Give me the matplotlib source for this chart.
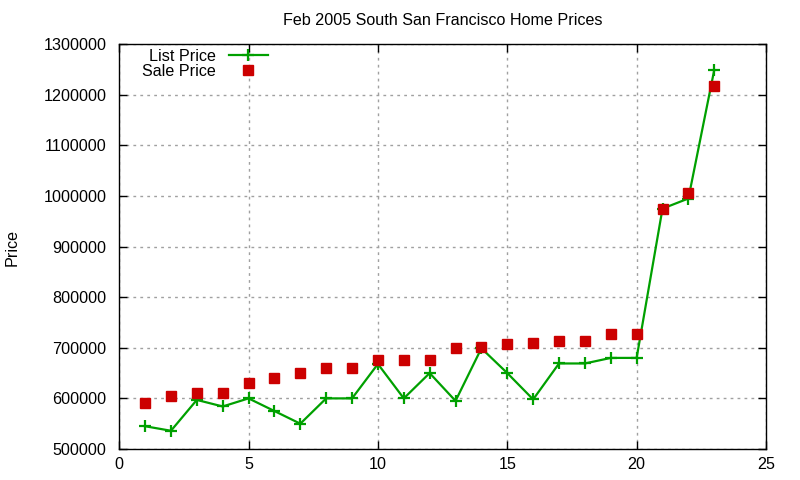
import numpy as np
import matplotlib
matplotlib.use("Agg")
from matplotlib import pyplot as plt

plt.rcParams['font.family'] = ['Liberation Sans', 'DejaVu Sans']

house = list(range(1, 24))
list_price = [545000, 536000, 597000, 584000, 600000, 575000, 550000, 600000, 600000,
              668000, 600000, 650000, 595000, 699000, 650000, 598000, 669000, 669000,
              680000, 680000, 975000, 995000, 1249000]
sale_price = [591000, 605000, 610000, 610000, 630000, 640000, 650000, 660000, 660000,
              675000, 675000, 675000, 699000, 702000, 707000, 710000, 713000, 713000,
              727000, 727000, 975000, 1005000, 1217000]

fig = plt.figure(figsize=(8, 4.8), dpi=100)
ax = fig.add_axes([0.149, 0.0646, 0.8085, 0.8434])

ax.plot(house, list_price, color='#00a000', linewidth=1.6, marker='+',
        markersize=9, markeredgewidth=1.6, label='List Price', zorder=3)
ax.plot(house, sale_price, linestyle='none', marker='s', color='#cc0000',
        markersize=6.5, label='Sale Price', zorder=4)

ax.set_xlim(0, 25)
ax.set_ylim(500000, 1300000)
ax.set_xticks(np.arange(0, 26, 5))
ax.set_yticks(np.arange(500000, 1300001, 100000))
ax.ticklabel_format(style='plain', axis='y', useOffset=False)
ax.tick_params(direction='in', top=True, right=True, length=6, labelsize=11.6, width=1)
ax.tick_params(axis='y', pad=9)
ax.tick_params(axis='x', pad=6)
ax.grid(True, linestyle=(0, (2, 3)), color='#a0a0a0', linewidth=1)
for s in ax.spines.values():
    s.set_linewidth(1)

ax.set_title('Feb 2005 South San Francisco Home Prices', fontsize=11.6, pad=14)
fig.text(12 / 800, 1 - 247 / 480, 'Price', rotation=90, fontsize=11.6,
         ha='center', va='center')

leg = ax.legend(loc='upper left', frameon=False, markerfirst=False, fontsize=11.6,
                handlelength=2.4, borderaxespad=0.0, labelspacing=0.0,
                bbox_to_anchor=(0.026, 1.005))
for t in leg.get_texts():
    t.set_ha('right')

plt.savefig('out.png', dpi=100)
